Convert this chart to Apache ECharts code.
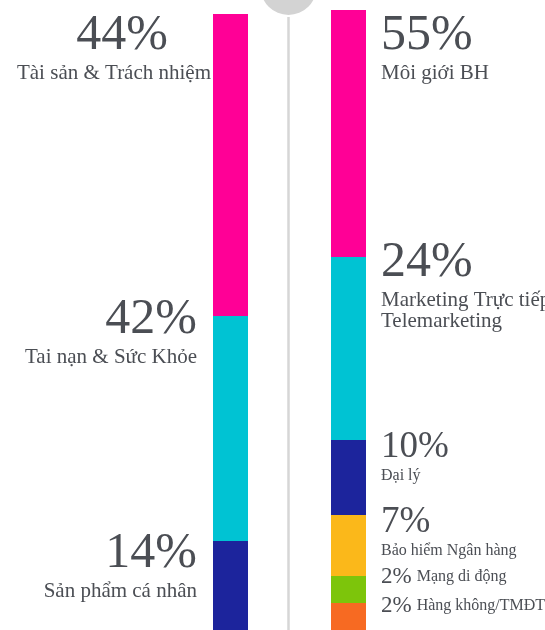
<!DOCTYPE html>
<html>
<head>
<meta charset="utf-8">
<script src="https://cdn.jsdelivr.net/npm/echarts@6/dist/echarts.min.js"></script>
<style>html,body{margin:0;padding:0;background:#fff}#chart{width:545px;height:630px}</style>
</head>
<body>
<div id="chart"></div>
<script>
// left column: product lines
var leftNames = ['Tài sản & Trách nhiệm', 'Tai nạn & Sức Khỏe', 'Sản phẩm cá nhân'];
var leftShare = [44, 42, 14];
var leftBar = [302, 225, 89];   // segment lengths as drawn
// right column: channels
var rightNames = ['Môi giới BH', 'Marketing Trực tiếp/\nTelemarketing', 'Đại lý', 'Bảo hiểm Ngân hàng', 'Mạng di động', 'Hàng không/TMĐT'];
var rightShare = [55, 24, 10, 7, 2, 2];
var rightBar = [247, 183, 75, 61, 27, 27];

var colors = ['#ff0096', '#00c3d3', '#1c249c', '#fbb81a', '#7dc50b', '#f76a22'];
var leftLabelY = [-5.5, -23.5, -14.5];
var rightLabelY = [-1.5, -21.5, -14, -14, -12, -10];

var font = '"Liberation Serif", "DejaVu Serif", serif';
var ink = '#4b4e54';

function labelText(tier, share, name, bigTag) {
    var lines = name.split('\n');
    if (tier === 'big') {
        return '{' + (bigTag || 'big') + '|' + share + '%}\n' + lines.map(function (l) { return '{name|' + l + '}'; }).join('\n');
    }
    if (tier === 'mid') {
        return '{mid|' + share + '%}\n' + lines.map(function (l) { return '{sname|' + l + '}'; }).join('\n');
    }
    return '{small|' + share + '%}{sinl|' + name + '}';
}
function tierOf(share) { return share >= 20 ? 'big' : share >= 5 ? 'mid' : 'small'; }

var rich = {
    big: { fontFamily: font, color: ink, fontSize: 50, lineHeight: 54 },
    bigPad: { fontFamily: font, color: ink, fontSize: 50, lineHeight: 54, padding: [0, 43, 0, 0] },
    name: { fontFamily: font, color: ink, fontSize: 21, lineHeight: 21 },
    mid: { fontFamily: font, color: ink, fontSize: 37, lineHeight: 42 },
    sname: { fontFamily: font, color: ink, fontSize: 16, lineHeight: 16 },
    small: { fontFamily: font, color: ink, fontSize: 23, lineHeight: 26 },
    sinl: { fontFamily: font, color: ink, fontSize: 16, lineHeight: 26, padding: [0, 0, 0, 5] }
};

function sum(a) { return a.reduce(function (s, v) { return s + v; }, 0); }

var series = [];
leftBar.forEach(function (v, i) {
    series.push({
        type: 'bar', stack: 'L', xAxisIndex: 0, yAxisIndex: 0,
        barWidth: '100%', data: [v],
        itemStyle: { color: colors[i] },
        label: {
            show: true,
            position: [i === 0 ? -2 : -16, leftLabelY[i]],
            align: 'right', verticalAlign: 'top',
            formatter: labelText('big', leftShare[i], leftNames[i], i === 0 ? 'bigPad' : null),
            rich: rich
        }
    });
});
rightBar.forEach(function (v, i) {
    series.push({
        type: 'bar', stack: 'R', xAxisIndex: 1, yAxisIndex: 1,
        barWidth: '100%', data: [v],
        itemStyle: { color: colors[i] },
        label: {
            show: true,
            position: [50, rightLabelY[i]],
            align: 'left', verticalAlign: 'top',
            formatter: labelText(tierOf(rightShare[i]), rightShare[i], rightNames[i]),
            rich: rich
        }
    });
});

var myChart = echarts.init(document.getElementById('chart'));
var option = {
    animation: false,
    silent: true,
    grid: [
        { left: 213, top: 14, width: 35, height: 616 },
        { left: 331, top: 10, width: 35, height: 620 }
    ],
    xAxis: [
        { type: 'category', gridIndex: 0, data: [''], show: false },
        { type: 'category', gridIndex: 1, data: [''], show: false }
    ],
    yAxis: [
        { type: 'value', gridIndex: 0, min: 0, max: sum(leftBar), inverse: true, show: false },
        { type: 'value', gridIndex: 1, min: 0, max: sum(rightBar), inverse: true, show: false }
    ],
    graphic: [
        { type: 'circle', shape: { cx: 288.5, cy: -13, r: 28 }, style: { fill: '#d3d3d3' } },
        { type: 'line', shape: { x1: 288.5, y1: 17, x2: 288.5, y2: 630 }, style: { stroke: '#d6d6d6', lineWidth: 2.5 } }
    ],
    series: series
};
myChart.setOption(option);
</script>
</body>
</html>
